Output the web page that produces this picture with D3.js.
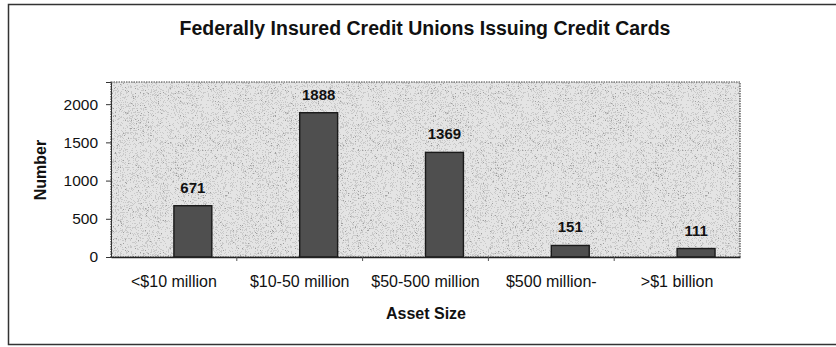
<!DOCTYPE html>
<html>
<head>
<meta charset="utf-8">
<script src="https://cdn.jsdelivr.net/npm/d3@7"></script>
<style>
  html, body { margin: 0; padding: 0; background: #fff; }
  svg { display: block; font-family: "Liberation Sans", Arial, sans-serif; }
</style>
</head>
<body>
<svg id="chart" width="836" height="347"></svg>
<script>
// ---- data ----
const categories = ["<$10 million", "$10-50 million", "$50-500 million", "$500 million-", ">$1 billion"];
const counts = [671, 1888, 1369, 151, 111];
const slots = ["empty", "count"];          // clustered slots (first slot empty, as in the original)
const yTicks = [0, 500, 1000, 1500, 2000];
const yMax = 2290;
const title = "Federally Insured Credit Unions Issuing Credit Cards";
const xTitle = "Asset Size";
const yTitle = "Number";

// ---- layout ----
const svg = d3.select("#chart");
const plot = { left: 111, right: 740, top: 82, bottom: 257 };

const x = d3.scaleBand().domain(categories).range([plot.left, plot.right]).paddingInner(0.397).paddingOuter(0.1985);
const xs = d3.scaleBand().domain(slots).range([0, x.bandwidth()]);
const y = d3.scaleLinear().domain([0, yMax]).range([plot.bottom, plot.top]);

// speckle texture (scan grain)
const defs = svg.append("defs");
const f = defs.append("filter").attr("id", "grain").attr("x", 0).attr("y", 0).attr("width", 1).attr("height", 1);
f.append("feTurbulence").attr("type", "fractalNoise").attr("baseFrequency", 1.6).attr("numOctaves", 1).attr("seed", 4).attr("result", "n");
f.append("feColorMatrix").attr("in", "n").attr("type", "matrix")
  .attr("values", "0 0 0 0 0  0 0 0 0 0  0 0 0 0 0  1 0 0 0 0").attr("result", "a");
const ct = f.append("feComponentTransfer").attr("in", "a").attr("result", "b");
ct.append("feFuncA").attr("type", "discrete").attr("tableValues", "0 0 0 0 0.12 0.3 0.5");
f.append("feComposite").attr("in", "b").attr("in2", "SourceGraphic").attr("operator", "in");

// outer frame
svg.append("path")
  .attr("d", "M836,4.5 H8.5 V344.5 H836")
  .attr("fill", "none").attr("stroke", "#333").attr("stroke-width", 1.5);

// title
svg.append("text")
  .attr("x", 425).attr("y", 35)
  .attr("text-anchor", "middle")
  .attr("font-size", 19.5).attr("font-weight", "bold").attr("fill", "#111")
  .text(title);

// plot area background
svg.append("rect")
  .attr("x", plot.left).attr("y", plot.top)
  .attr("width", plot.right - plot.left).attr("height", plot.bottom - plot.top)
  .attr("fill", "#e4e4e4");
svg.append("rect")
  .attr("x", plot.left).attr("y", plot.top)
  .attr("width", plot.right - plot.left).attr("height", plot.bottom - plot.top)
  .attr("fill", "#000").attr("filter", "url(#grain)");
svg.append("rect")
  .attr("x", plot.left).attr("y", plot.top)
  .attr("width", plot.right - plot.left).attr("height", plot.bottom - plot.top)
  .attr("fill", "none")
  .attr("stroke", "#444").attr("stroke-width", 1.2).attr("stroke-dasharray", "1.5,1");

// bars
const barData = categories.map((c, i) => ({ c, v: counts[i] }));
svg.append("g").selectAll("rect")
  .data(barData)
  .join("rect")
  .attr("x", d => x(d.c) + xs("count"))
  .attr("y", d => y(d.v))
  .attr("width", xs.bandwidth())
  .attr("height", d => y(0) - y(d.v))
  .attr("fill", "#4f4f4f")
  .attr("stroke", "#1a1a1a").attr("stroke-width", 1.4);

// value labels
svg.append("g").selectAll("text")
  .data(barData)
  .join("text")
  .attr("x", d => x(d.c) + xs("count") + xs.bandwidth() / 2)
  .attr("y", d => y(d.v) - 13)
  .attr("text-anchor", "middle")
  .attr("font-size", 15).attr("font-weight", "bold").attr("fill", "#111")
  .text(d => d.v);

// y axis
const yAxis = svg.append("g")
  .attr("transform", `translate(${plot.left},0)`)
  .call(d3.axisLeft(y).tickValues(yTicks).tickFormat(d3.format("d")).tickSize(5).tickPadding(8));
yAxis.select(".domain").attr("stroke", "#333");
yAxis.selectAll(".tick line").attr("stroke", "#333");
yAxis.selectAll(".tick text").attr("font-size", 15.5).attr("fill", "#111").attr("font-family", "Liberation Sans, Arial, sans-serif");

// x axis
const xAxis = svg.append("g")
  .attr("transform", `translate(0,${plot.bottom})`)
  .call(d3.axisBottom(x).tickSize(0).tickPadding(19));
xAxis.select(".domain").attr("stroke", "#222").attr("stroke-width", 1.5);
xAxis.selectAll(".tick text").attr("font-size", 16).attr("fill", "#111").attr("font-family", "Liberation Sans, Arial, sans-serif");
// category separators
svg.append("g").selectAll("line")
  .data(categories.slice(1))
  .join("line")
  .attr("x1", d => x(d) - x.step() * x.paddingInner() / 2)
  .attr("x2", d => x(d) - x.step() * x.paddingInner() / 2)
  .attr("y1", plot.bottom).attr("y2", plot.bottom + 4)
  .attr("stroke", "#555");

// axis titles
svg.append("text")
  .attr("x", 426).attr("y", 319)
  .attr("text-anchor", "middle")
  .attr("font-size", 16).attr("font-weight", "bold").attr("fill", "#111")
  .text(xTitle);

svg.append("text")
  .attr("transform", "translate(46,170) rotate(-90)")
  .attr("text-anchor", "middle")
  .attr("font-size", 16).attr("font-weight", "bold").attr("fill", "#111")
  .text(yTitle);
</script>
</body>
</html>
